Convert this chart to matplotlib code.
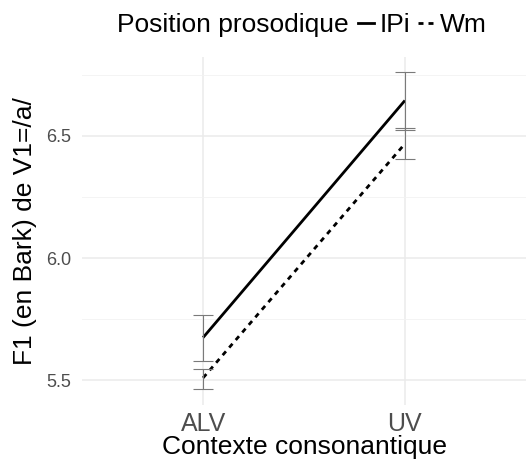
import matplotlib
matplotlib.use('Agg')
import matplotlib.pyplot as plt
from matplotlib.lines import Line2D
from matplotlib.ticker import MultipleLocator

plt.rcParams['font.family'] = ['Liberation Sans', 'DejaVu Sans']

# données
contexte = ['ALV', 'UV']
ipi_moy = [5.675, 6.645]
ipi_bas = [5.580, 6.525]
ipi_haut = [5.768, 6.762]
wm_moy = [5.510, 6.468]
wm_bas = [5.465, 6.405]
wm_haut = [5.545, 6.533]
yticks = [5.5, 6.0, 6.5]

W, H = 527, 461
fig = plt.figure(figsize=(W / 100, H / 100), dpi=100)
ax = fig.add_axes([82 / W, 1 - 405 / H, (526 - 82) / W, (405 - 57) / H])

x = list(range(1, len(contexte) + 1))
gris = '#7a7a7a'

# lignes
ax.plot(x, ipi_moy, color='black', lw=2.0, solid_capstyle='butt', zorder=3)
ax.plot(x, wm_moy, color='black', lw=2.0, linestyle=(0, (1.8, 1.8)), zorder=3)

# barres d'erreur
for moy, bas, haut in [(ipi_moy, ipi_bas, ipi_haut), (wm_moy, wm_bas, wm_haut)]:
    err = [[m - b for m, b in zip(moy, bas)], [h - m for m, h in zip(moy, haut)]]
    ax.errorbar(x, moy, yerr=err, fmt='none', ecolor=gris, elinewidth=0.8,
                capsize=7.2, capthick=0.8, zorder=4)

ax.set_xlim(0.4, 2.6)
ax.set_ylim(5.399, 6.823)
ax.set_xticks(x)
ax.set_xticklabels(contexte)
ax.set_yticks(yticks)
ax.set_yticklabels(['%.1f' % v for v in yticks])
ax.yaxis.set_minor_locator(MultipleLocator(0.25))

ax.grid(True, which='major', color='#EBEBEB', lw=1.1)
ax.grid(True, which='minor', axis='y', color='#F2F2F2', lw=0.6)
ax.set_axisbelow(True)
for s in ax.spines.values():
    s.set_visible(False)
ax.tick_params(axis='both', which='both', length=0)
ax.tick_params(axis='y', labelsize=13, labelcolor='#4D4D4D', pad=8)
ax.tick_params(axis='x', labelsize=18, labelcolor='#4D4D4D', pad=5)

ax.set_xlabel('Contexte consonantique', fontsize=19, labelpad=-1)
ax.set_ylabel('F1 (en Bark) de V1=/a/', fontsize=19, labelpad=6)

# légende
fig.text(117 / W, 1 - 25 / H, 'Position prosodique', fontsize=19, va='center', ha='left')
handles = [Line2D([], [], color='black', lw=2.0),
           Line2D([], [], color='black', lw=2.0, linestyle=(0, (1.8, 1.8)))]
fig.legend(handles, ['IPi', 'Wm'], loc='center left', ncol=2,
           bbox_to_anchor=(358 / W, 1 - 25 / H), frameon=False, fontsize=19,
           handlelength=0.62, handletextpad=0.2, columnspacing=0.3,
           borderpad=0, borderaxespad=0)

fig.savefig('out.png', dpi=100)
